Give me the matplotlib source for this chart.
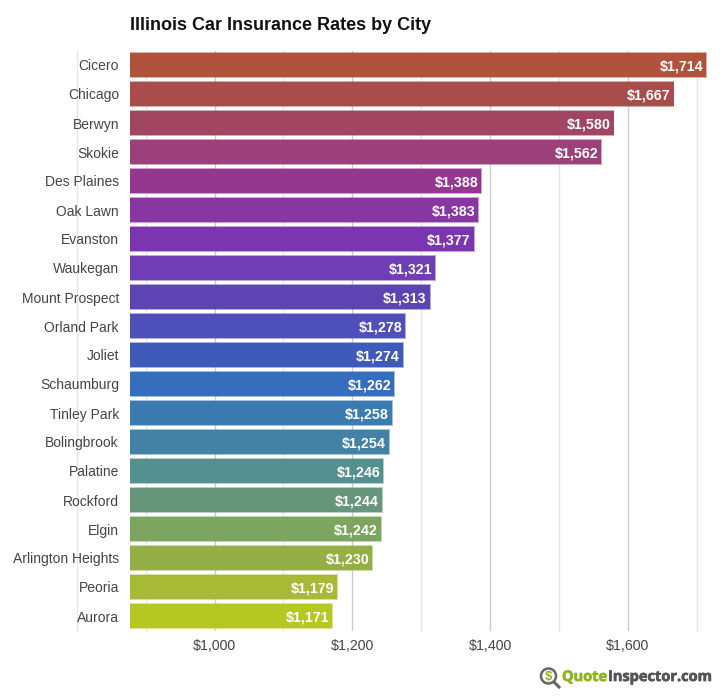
import matplotlib
matplotlib.use('Agg')
import matplotlib.pyplot as plt
import matplotlib.patheffects as pe
from matplotlib.patches import Circle
from matplotlib.lines import Line2D

plt.rcParams['font.family'] = ['Liberation Sans', 'DejaVu Sans']

cities = ['Cicero', 'Chicago', 'Berwyn', 'Skokie', 'Des Plaines', 'Oak Lawn', 'Evanston',
          'Waukegan', 'Mount Prospect', 'Orland Park', 'Joliet', 'Schaumburg', 'Tinley Park',
          'Bolingbrook', 'Palatine', 'Rockford', 'Elgin', 'Arlington Heights', 'Peoria', 'Aurora']
rates = [1714, 1667, 1580, 1562, 1388, 1383, 1377, 1321, 1313, 1278,
         1274, 1262, 1258, 1254, 1246, 1244, 1242, 1230, 1179, 1171]
colors = ['#b1533c', '#a94d4c', '#a24563', '#9c4079', '#93378f', '#8837a2', '#7c35b0',
          '#6f3db5', '#5c44b3', '#4e4fb8', '#3f5bb9', '#346ebd', '#3c7bb0', '#4482a5',
          '#54908d', '#66967a', '#7ca65f', '#94b045', '#a6ba36', '#b5c722']
major_ticks = [1000, 1200, 1400, 1600]
minor_ticks = [800, 900, 1100, 1300, 1500, 1700]

W, H = 724, 700
fig = plt.figure(figsize=(W / 100, H / 100), dpi=100)

# axes box in pixels, bars start at the left edge
left, right, top, bottom = 130, 708, 50.5, 630.5
ax = fig.add_axes([left / W, 1 - bottom / H, (right - left) / W, (bottom - top) / H])

per_px = 200 / 137.8
ax.set_xlim(1000 - (214.5 - left) * per_px, 1000 + (right - 214.5) * per_px)
ax.set_ylim(len(cities) - 0.5, -0.5)

for v in minor_ticks:
    ax.axvline(v, color='#e6e6e6', lw=1, zorder=0, clip_on=False)
for v in major_ticks:
    ax.axvline(v, color='#cccccc', lw=1, zorder=0)

pos = list(range(len(cities)))
ax.barh(pos, [r + 0.5 for r in rates], height=0.88, color=colors, alpha=0.45, zorder=2)
# solid core inside the paler edge of each bar
for y, r, c in zip(pos, rates, colors):
    ax.barh(y, r - 0.8, height=0.81, color=c, zorder=3)
    ax.text(r - 5, y, '${:,}'.format(r), color='white', fontsize=10.3, fontweight='bold',
            ha='right', va='center_baseline', zorder=4)

for s in ax.spines.values():
    s.set_visible(False)
ax.set_yticks(pos)
ax.set_yticklabels(cities, fontsize=10, color='#444444', va='center_baseline')
ax.set_xticks(major_ticks)
ax.set_xticklabels(['${:,}'.format(v) for v in major_ticks], fontsize=10.2, color='#444444')
ax.tick_params(axis='both', length=0)
ax.tick_params(axis='y', pad=8)
ax.tick_params(axis='x', pad=6)

fig.text(130 / W, 1 - 25.5 / H, 'Illinois Car Insurance Rates by City', fontsize=13, fontweight='bold',
         color='#111111', ha='left', va='center')

# logo bottom right
bold = [pe.withStroke(linewidth=0.5, foreground='#8db51e')]
fig.text(562 / W, 1 - 677 / H, 'Quote', fontsize=10.5, fontweight='bold', color='#8db51e',
         family='Open Sans', ha='left', va='center', path_effects=bold)
bold = [pe.withStroke(linewidth=0.5, foreground='#555555')]
fig.text(608 / W, 1 - 677 / H, 'Inspector.com', fontsize=10.5, fontweight='bold', color='#555555',
         family='Open Sans', ha='left', va='center', path_effects=bold)
fig.add_artist(Circle((548.5, H - 676), 7.5, transform=None, fill=False, ec='#666666', lw=1.8))
fig.text(548.5 / W, 1 - 676.5 / H, '$', fontsize=9.5, fontweight='bold', color='#8db51e', ha='center', va='center')
fig.add_artist(Line2D([554, 559], [H - 682, H - 687], transform=None, color='#666666', lw=2.2))

fig.savefig('out.png', dpi=100)
